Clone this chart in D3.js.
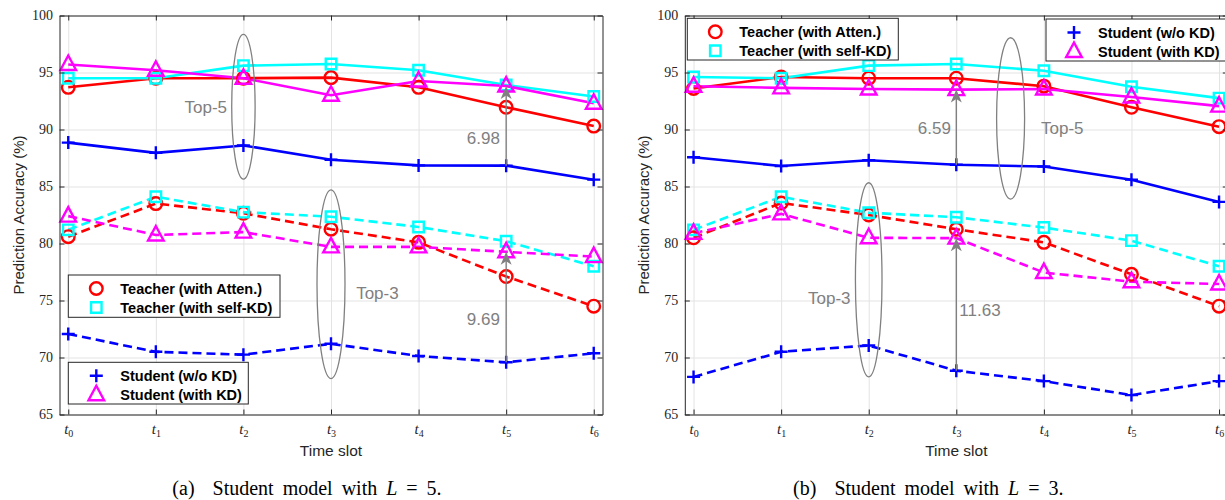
<!DOCTYPE html>
<html>
<head>
<meta charset="utf-8">
<script src="https://cdn.jsdelivr.net/npm/d3@7"></script>
<style>
  body { margin: 0; background: #fff; }
  svg { display: block; }
</style>
</head>
<body>
<div id="chart"></div>
<script>
// time slots t0..t6 and y ticks
const timeSlots = [0, 1, 2, 3, 4, 5, 6];
const yTicks = [65, 70, 75, 80, 85, 90, 95, 100];
const seriesNames = ['Teacher (with Atten.)', 'Teacher (with self-KD)', 'Student (w/o KD)', 'Student (with KD)'];

// (a) student with L = 5, Top-5 accuracy (solid)
const attenTop5A  = [93.7, 94.5, 94.5, 94.55, 93.7, 91.95, 90.3];
const selfKDTop5A = [94.5, 94.5, 95.6, 95.75, 95.2, 93.9, 92.9];
const noKDTop5A   = [88.85, 87.95, 88.6, 87.35, 86.85, 86.83, 85.6];
const withKDTop5A = [95.7, 95.2, 94.5, 93.0, 94.25, 93.81, 92.3];
// (a) Top-3 accuracy (dashed)
const attenTop3A  = [80.6, 83.5, 82.65, 81.25, 80.1, 77.1, 74.5];
const selfKDTop3A = [81.2, 84.1, 82.75, 82.35, 81.45, 80.2, 78.0];
const noKDTop3A   = [72.06, 70.5, 70.25, 71.2, 70.13, 69.58, 70.37];
const withKDTop3A = [82.4, 80.75, 81.0, 79.7, 79.7, 79.27, 78.85];

// (b) student with L = 3, Top-5 accuracy (solid)
const attenTop5B  = [93.6, 94.6, 94.5, 94.5, 93.8, 91.95, 90.25];
const selfKDTop5B = [94.6, 94.5, 95.6, 95.75, 95.15, 93.75, 92.75];
const noKDTop5B   = [87.56, 86.8, 87.3, 86.91, 86.75, 85.6, 83.65];
const withKDTop5B = [93.8, 93.65, 93.55, 93.5, 93.55, 92.85, 92.05];
// (b) Top-3 accuracy (dashed)
const attenTop3B  = [80.5, 83.55, 82.5, 81.25, 80.1, 77.3, 74.5];
const selfKDTop3B = [81.2, 84.1, 82.7, 82.3, 81.4, 80.25, 78.0];
const noKDTop3B   = [68.3, 70.5, 71.05, 68.84, 67.93, 66.7, 67.93];
const withKDTop3B = [80.9, 82.6, 80.5, 80.47, 77.45, 76.65, 76.45];

// gap labels drawn next to the grey arrows
const gapLabelsA = ['6.98', '9.69'];
const gapLabelsB = ['6.59', '11.63'];

const colours = ['#ff0000', '#00ffff', '#0000ff', '#ff00ff'];
const markers = ['circle', 'square', 'plus', 'triangle'];

const width = 1225;
const height = 500;
const plotLeft = 59.5, plotRight = 602.5, plotTop = 15.5, plotBottom = 414.5;
const axisColour = '#262626';
const annoColour = '#808080';
const sans = '"Liberation Sans", Arial, sans-serif';
const serif = '"Liberation Serif", "Times New Roman", serif';

const svg = d3.select('#chart')
  .append('svg')
    .attr('width', width)
    .attr('height', height);

function markerPath(type) {
  if (type === 'circle') return d3.symbol().type(d3.symbolCircle).size(125)();
  if (type === 'square') return d3.symbol().type(d3.symbolSquare).size(110)();
  if (type === 'triangle') return 'M0,-9L7.8,5.5L-7.8,5.5Z';
  return 'M-6.5,0H6.5M0,-6.5V6.5';
}

function drawPanel(cfg) {
  const g = svg.append('g').attr('transform', `translate(${cfg.offset},0)`);

  const x = d3.scaleLinear().domain([-0.1, 6.1]).range([plotLeft, plotRight]);
  const y = d3.scaleLinear().domain([65, 100]).range([plotBottom, plotTop]);

  // grid
  g.append('g')
    .attr('transform', `translate(${plotLeft},0)`)
    .call(d3.axisLeft(y).tickValues(yTicks).tickSize(-(plotRight - plotLeft)).tickFormat(''))
    .call(a => a.select('.domain').remove())
    .selectAll('line').attr('stroke', '#e3e3e3');
  g.append('g')
    .attr('transform', `translate(0,${plotBottom})`)
    .call(d3.axisBottom(x).tickValues(timeSlots).tickSize(-(plotBottom - plotTop)).tickFormat(''))
    .call(a => a.select('.domain').remove())
    .selectAll('line').attr('stroke', '#e3e3e3');

  // lines, solid for Top-5, dashed for Top-3
  const line = d3.line().x((d, i) => x(timeSlots[i])).y(d => y(d));
  [[cfg.top5, null], [cfg.top3, '9,5']].forEach(([group, dash]) => {
    group.forEach((vals, s) => {
      g.append('path')
        .datum(vals)
        .attr('d', line)
        .attr('fill', 'none')
        .attr('stroke', colours[s])
        .attr('stroke-width', 2.6)
        .attr('stroke-dasharray', dash);
    });
  });
  [cfg.top5, cfg.top3].forEach(group => {
    group.forEach((vals, s) => {
      g.selectAll(null)
        .data(vals)
        .enter()
          .append('path')
            .attr('d', markerPath(markers[s]))
            .attr('transform', (d, i) => `translate(${x(timeSlots[i])},${y(d)})`)
            .attr('fill', 'none')
            .attr('stroke', colours[s])
            .attr('stroke-width', 2.4);
    });
  });

  // ellipses round the Top-5 / Top-3 groups
  cfg.ellipses.forEach(e => {
    g.append('ellipse')
      .attr('cx', x(e.t))
      .attr('cy', (y(e.y0) + y(e.y1)) / 2)
      .attr('rx', e.rx)
      .attr('ry', (y(e.y0) - y(e.y1)) / 2)
      .attr('fill', 'none')
      .attr('stroke', annoColour)
      .attr('stroke-width', 1.3);
  });

  // arrows from student w/o KD up to student with KD
  cfg.arrows.forEach((a, k) => {
    const group = a.set === 'top5' ? cfg.top5 : cfg.top3;
    const xp = x(timeSlots[a.idx]);
    const yFrom = y(group[2][a.idx]);
    const yTo = y(group[3][a.idx]);
    g.append('line')
      .attr('x1', xp).attr('x2', xp)
      .attr('y1', yFrom).attr('y2', yTo + 9)
      .attr('stroke', annoColour)
      .attr('stroke-width', 1.4);
    g.append('path')
      .attr('d', `M${xp},${yTo}L${xp + 5.5},${yTo + 13}L${xp},${yTo + 9.5}L${xp - 5.5},${yTo + 13}Z`)
      .attr('fill', annoColour);
    g.append('text')
      .attr('x', x(a.tx))
      .attr('y', y(a.ty))
      .attr('text-anchor', 'middle')
      .attr('dominant-baseline', 'central')
      .attr('font-family', sans)
      .attr('font-size', 17)
      .attr('fill', annoColour)
      .text(cfg.gapLabels[k]);
  });

  cfg.notes.forEach(n => {
    g.append('text')
      .attr('x', x(n.t))
      .attr('y', y(n.y))
      .attr('text-anchor', 'middle')
      .attr('dominant-baseline', 'central')
      .attr('font-family', sans)
      .attr('font-size', 17)
      .attr('fill', annoColour)
      .text(n.text);
  });

  // axes box with inward ticks
  const yAxis = g.append('g')
    .attr('transform', `translate(${plotLeft},0)`)
    .call(d3.axisLeft(y).tickValues(yTicks).tickSizeInner(-5).tickSizeOuter(0).tickPadding(6.5));
  yAxis.selectAll('text')
    .attr('font-family', serif)
    .attr('font-size', 14)
    .attr('fill', axisColour);
  g.append('g')
    .attr('transform', `translate(${plotRight},0)`)
    .call(d3.axisRight(y).tickValues(yTicks).tickSizeInner(-5).tickSizeOuter(0).tickFormat(''));

  const xAxis = g.append('g')
    .attr('transform', `translate(0,${plotBottom})`)
    .call(d3.axisBottom(x).tickValues(timeSlots).tickSizeInner(-5).tickSizeOuter(0).tickPadding(8.5));
  xAxis.selectAll('.tick text').each(function(d) {
    const t = d3.select(this).text(null)
      .attr('font-family', serif)
      .attr('font-size', 15)
      .attr('fill', axisColour);
    t.append('tspan').attr('font-style', 'italic').text('t');
    t.append('tspan').attr('font-size', 10).attr('dy', 3).text(d);
  });
  g.append('g')
    .attr('transform', `translate(0,${plotTop})`)
    .call(d3.axisTop(x).tickValues(timeSlots).tickSizeInner(-5).tickSizeOuter(0).tickFormat(''));
  g.selectAll('.domain, .tick line')
    .filter(function() { return d3.select(this).attr('stroke') === 'currentColor'; })
    .attr('stroke', axisColour);

  // axis titles
  g.append('text')
    .attr('transform', `translate(18.5,${(plotTop + plotBottom) / 2}) rotate(-90)`)
    .attr('text-anchor', 'middle')
    .attr('dominant-baseline', 'central')
    .attr('font-family', sans)
    .attr('font-size', 15)
    .attr('fill', axisColour)
    .text('Prediction Accuracy (%)');
  g.append('text')
    .attr('x', (plotLeft + plotRight) / 2)
    .attr('y', 456)
    .attr('text-anchor', 'middle')
    .attr('font-family', sans)
    .attr('font-size', 15.5)
    .attr('fill', axisColour)
    .text('Time slot');

  // legends
  cfg.legends.forEach(lg => {
    g.append('rect')
      .attr('x', lg.x).attr('y', lg.y)
      .attr('width', lg.w).attr('height', lg.h)
      .attr('fill', '#fff')
      .attr('stroke', axisColour)
      .attr('stroke-width', 1);
    lg.series.forEach((s, r) => {
      const cy = lg.y + 13.5 + r * 19;
      g.append('path')
        .attr('d', markerPath(markers[s]))
        .attr('transform', `translate(${lg.x + 28},${cy})`)
        .attr('fill', 'none')
        .attr('stroke', colours[s])
        .attr('stroke-width', 2.4);
      g.append('text')
        .attr('x', lg.x + 52)
        .attr('y', cy)
        .attr('dominant-baseline', 'central')
        .attr('font-family', sans)
        .attr('font-weight', 'bold')
        .attr('font-size', 14.5)
        .attr('fill', '#000')
        .text(seriesNames[s]);
    });
  });

  // caption
  const cap = g.append('text')
    .attr('x', cfg.captionX)
    .attr('y', 495)
    .attr('text-anchor', 'middle')
    .attr('font-family', serif)
    .attr('font-size', 20)
    .attr('word-spacing', 4)
    .attr('fill', '#000');
  cap.append('tspan').text(cfg.caption[0] + '\u00a0 Student model with ');
  cap.append('tspan').attr('font-style', 'italic').text('L');
  cap.append('tspan').text(' = ' + cfg.caption[1] + '.');
}

drawPanel({
  offset: 0,
  top5: [attenTop5A, selfKDTop5A, noKDTop5A, withKDTop5A],
  top3: [attenTop3A, selfKDTop3A, noKDTop3A, withKDTop3A],
  gapLabels: gapLabelsA,
  arrows: [
    {set: 'top5', idx: 5, tx: 4.74, ty: 89.25},
    {set: 'top3', idx: 5, tx: 4.74, ty: 73.3}
  ],
  ellipses: [
    {t: 2, y0: 85.65, y1: 98.35, rx: 11.7},
    {t: 3, y0: 68.15, y1: 84.7, rx: 14}
  ],
  notes: [
    {text: 'Top-5', t: 1.57, y: 91.9},
    {text: 'Top-3', t: 3.53, y: 75.65}
  ],
  legends: [
    {x: 68.3, y: 275, w: 211.7, h: 42.3, series: [0, 1]},
    {x: 68.3, y: 362.3, w: 180, h: 41.7, series: [2, 3]}
  ],
  caption: ['(a)', '5'],
  captionX: 307
});

drawPanel({
  offset: 625.3,
  top5: [attenTop5B, selfKDTop5B, noKDTop5B, withKDTop5B],
  top3: [attenTop3B, selfKDTop3B, noKDTop3B, withKDTop3B],
  gapLabels: gapLabelsB,
  arrows: [
    {set: 'top5', idx: 3, tx: 2.75, ty: 90.1},
    {set: 'top3', idx: 3, tx: 3.27, ty: 74.1}
  ],
  ellipses: [
    {t: 3.62, y0: 83.9, y1: 98.05, rx: 14},
    {t: 2, y0: 68.3, y1: 85.33, rx: 13.3}
  ],
  notes: [
    {text: 'Top-5', t: 4.21, y: 90.1},
    {text: 'Top-3', t: 1.55, y: 75.2}
  ],
  legends: [
    {x: 62, y: 18.3, w: 211, h: 41.7, series: [0, 1]},
    {x: 420.7, y: 19, w: 190, h: 42, series: [2, 3]}
  ],
  caption: ['(b)', '3'],
  captionX: 303
});
</script>
</body>
</html>
